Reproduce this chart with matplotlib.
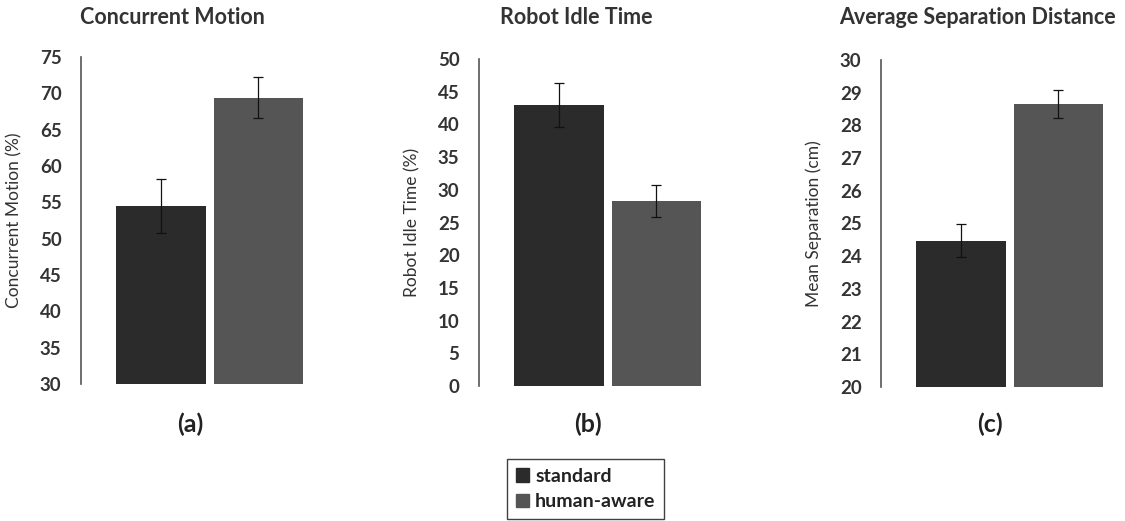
import matplotlib
matplotlib.use("Agg")
import matplotlib.pyplot as plt
from matplotlib.patches import Patch

plt.rcParams['font.family'] = ['Lato', 'DejaVu Sans']

# data
groups = ['standard', 'human-aware']
titles = ['Concurrent Motion', 'Robot Idle Time', 'Average Separation Distance']
ylabels = ['Concurrent Motion (%)', 'Robot Idle Time (%)', 'Mean Separation (cm)']
letters = ['(a)', '(b)', '(c)']

motion = [54.5, 69.4]
motion_err = [3.7, 2.8]
idle = [43.0, 28.3]
idle_err = [3.35, 2.45]
separation = [24.47, 28.65]
separation_err = [0.5, 0.42]

ylims = [(30, 75), (0, 50), (20, 30)]
ysteps = [5, 5, 1]

colors = ['#2b2b2b', '#555555']

W, H = 1125, 521
fig = plt.figure(figsize=(W / 100, H / 100), dpi=100)

# axes boxes in pixels: left spine x, top y, bottom y
boxes = [(81, 57, 384), (479, 59, 386), (881, 60, 387)]
ax_w = 236

values = [motion, idle, separation]
errors = [motion_err, idle_err, separation_err]
title_x = [0.12, 0.18, 0.17]

for i in range(3):
    left, top, bottom = boxes[i]
    ax = fig.add_axes([left / W, (H - bottom) / H, ax_w / W, (bottom - top) / H])
    ax.bar([0, 1], values[i], width=0.92, color=colors, bottom=0,
           yerr=errors[i], capsize=3.6,
           error_kw=dict(elinewidth=0.9, capthick=0.9, ecolor='#111111'))
    lo, hi = ylims[i]
    ax.set_ylim(lo, hi)
    ax.set_xlim(-0.82, 1.6)
    ticks = list(range(lo, hi + 1, ysteps[i]))
    ax.set_yticks(ticks)
    ax.set_yticklabels([str(t) for t in ticks], fontsize=13.5, fontweight='bold', color='#333333')
    ax.tick_params(axis='y', length=0, pad=14)
    ax.set_xticks([])
    for s in ['top', 'right', 'bottom']:
        ax.spines[s].set_visible(False)
    ax.spines['left'].set_color('#555555')
    ax.spines['left'].set_linewidth(1.2)
    ax.set_ylabel(ylabels[i], fontsize=12.5, color='#333333')
    ax.yaxis.set_label_coords(-59 / ax_w, 0.5)
    tr = ax.get_xaxis_transform()
    ax.text(title_x[i], 1 + (top - 18) / (bottom - top), titles[i], transform=tr,
            ha='center', va='center', fontsize=15.5, fontweight='bold', color='#333333')
    ax.text(0.3, -(424 - bottom) / (bottom - top), letters[i], transform=tr,
            ha='center', va='center', fontsize=18, fontweight='bold', color='#222222')

handles = [Patch(facecolor=c, edgecolor=c) for c in colors]
leg = fig.legend(handles, groups, loc='lower left', bbox_to_anchor=(507 / W, 2 / H),
                 frameon=True, fancybox=False, edgecolor='#111111', fontsize=14,
                 handlelength=0.7, handleheight=0.7, handletextpad=0.3,
                 borderpad=0.45, labelspacing=0.45, borderaxespad=0)
leg.get_frame().set_linewidth(1.0)
for t in leg.get_texts():
    t.set_fontweight('bold')
    t.set_color('#222222')

fig.savefig('out.png', dpi=100, facecolor='white')
